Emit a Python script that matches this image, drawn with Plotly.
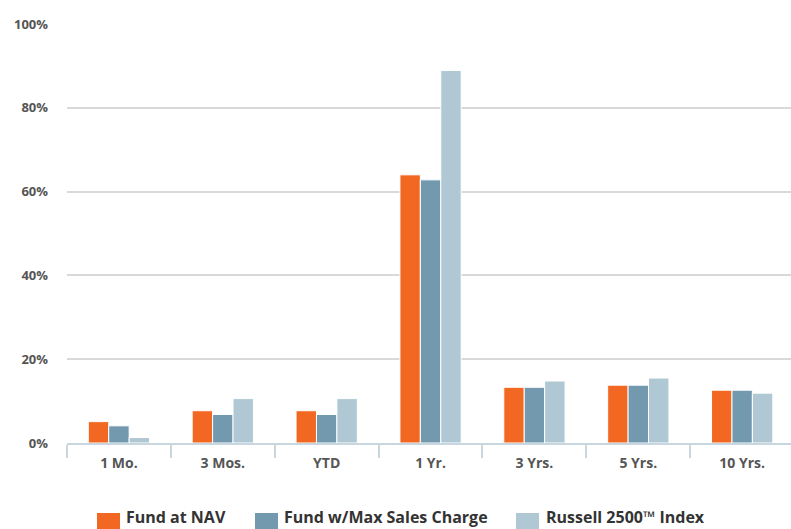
import plotly.graph_objects as go

# Trailing-period returns (%)
periods = ["1 Mo.", "3 Mos.", "YTD", "1 Yr.", "3 Yrs.", "5 Yrs.", "10 Yrs."]
fund_nav = [5.1, 7.7, 7.7, 64.0, 13.3, 13.8, 12.6]
fund_max_charge = [4.1, 6.8, 6.8, 62.8, 13.3, 13.8, 12.6]
russell_2500 = [1.3, 10.6, 10.6, 88.9, 14.8, 15.5, 11.9]

series_names = ["Fund at NAV", "Fund w/Max Sales Charge", "Russell 2500™ Index"]
series_values = [fund_nav, fund_max_charge, russell_2500]
series_colors = ["#F26722", "#7399AF", "#B0C8D4"]

y_ticks = [0, 20, 40, 60, 80, 100]
y_tick_text = [f"{v}%" for v in y_ticks]

FONT = "Open Sans"

fig = go.Figure()
for name, vals, color in zip(series_names, series_values, series_colors):
    fig.add_trace(go.Bar(
        x=periods, y=vals, name=name,
        marker=dict(color=color, line=dict(color="white", width=1)),
        showlegend=False,
    ))

# Plot-area geometry (pixels) used to place the custom legend
W, H = 791, 529
L, R, T, B = 67, 0, 24, 86
pw, ph = W - L - R, H - T - B

def px_x(x):
    return (x - L) / pw

def px_y(y):
    return (H - B - y) / ph

legend_items = [(97, 124), (255, 282), (516, 544)]
shapes = []
annotations = []
for (sx, tx), name, color in zip(legend_items, series_names, series_colors):
    shapes.append(dict(
        type="rect", xref="paper", yref="paper",
        x0=px_x(sx), x1=px_x(sx + 23), y0=px_y(537), y1=px_y(513),
        fillcolor=color, line=dict(width=0), layer="above",
    ))
    annotations.append(dict(
        xref="paper", yref="paper", x=px_x(tx), y=px_y(517),
        xanchor="left", yanchor="middle", showarrow=False, text=f"<b>{name}</b>",
        font=dict(family=FONT, size=16, color="#333333"),
    ))

fig.update_layout(
    width=W, height=H,
    margin=dict(l=L, r=R, t=T, b=B, pad=0),
    paper_bgcolor="white", plot_bgcolor="white",
    barmode="group", bargap=0.41, bargroupgap=0,
    shapes=shapes, annotations=annotations,
    font=dict(family=FONT),
)
fig.update_xaxes(
    range=[-0.5, 6.47],
    showline=True, linecolor="#C8D6E0", linewidth=2,
    ticks="outside", tickson="boundaries", ticklen=13, tickcolor="#C8D6E0", tickwidth=2,
    ticklabelstandoff=6,
    tickfont=dict(family=FONT, size=14, color="#555555", weight="bold"),
    showgrid=False,
)
fig.update_yaxes(
    range=[0, 100],
    tickvals=y_ticks, ticktext=y_tick_text,
    showgrid=True, gridcolor="#D9D9D9", gridwidth=2,
    zeroline=False, showline=False, ticks="",
    ticklabelstandoff=18,
    tickfont=dict(family=FONT, size=13, color="#555555", weight="bold"),
)

fig.write_html("out.html")
